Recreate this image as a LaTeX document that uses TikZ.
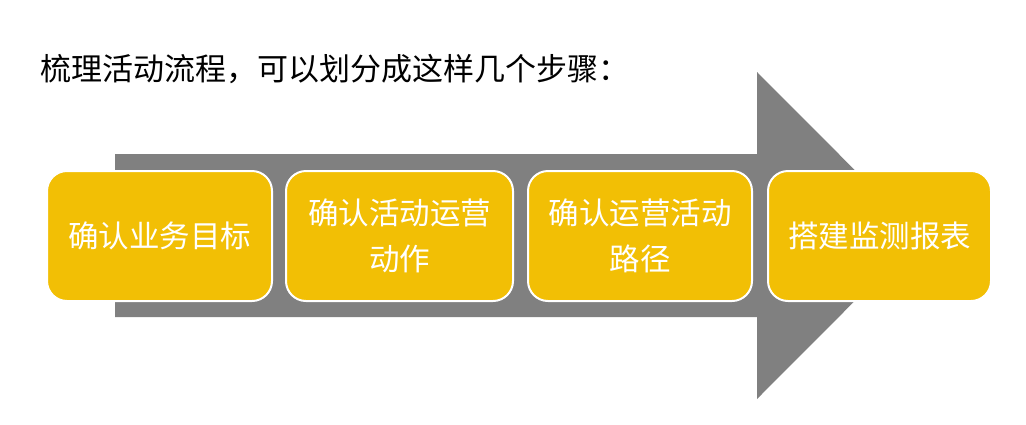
\documentclass[tikz,border=0pt]{standalone}
\usepackage{fontspec}
\newfontfamily\cjk{Noto Sans CJK SC}
\definecolor{boxyellow}{HTML}{F2BF05}
\definecolor{arrowgray}{HTML}{808080}
\begin{document}
\begin{tikzpicture}[x=1pt,y=-1pt,
  stepbox/.style={draw=white, line width=2pt, fill=boxyellow, rounded corners=20pt,
    minimum width=225pt, minimum height=130pt, inner sep=0pt, text=white,
    font=\cjk\fontsize{30.5}{46}\selectfont, align=center, anchor=north west},
  titletext/.style={font=\cjk\fontsize{31}{36}\selectfont, text=black, anchor=west, inner sep=0pt}]
\useasboundingbox (0,0) rectangle (1026,424);
\fill[white] (0,0) rectangle (1026,424);
% big arrow
\fill[arrowgray] (115,154) -- (757,154) -- (757,72) -- (920,235.5) -- (757,399) -- (757,317) -- (115,317) -- cycle;
\node[titletext] (title) at (40,69) {梳理活动流程，可以划分成这样几个步骤：};
\node[stepbox] (s1) at (46,170) {确认业务目标};
\node[stepbox, minimum width=227pt] (s2) at (285,170) {确认活动运营\\动作};
\node[stepbox, minimum width=224pt] (s3) at (527,170) {确认运营活动\\路径};
\node[stepbox, minimum width=223pt] (s4) at (767,170) {搭建监测报表};
\end{tikzpicture}
\end{document}
